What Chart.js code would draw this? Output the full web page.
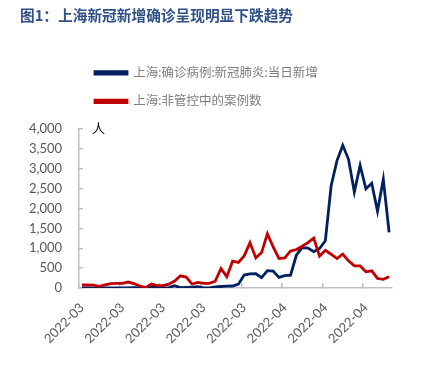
<!DOCTYPE html>
<html><head><meta charset="utf-8">
<script src="https://cdn.jsdelivr.net/npm/chart.js@4/dist/chart.umd.min.js"></script>
<style>html,body{margin:0;padding:0;background:#fff}#wrap{width:421px;height:370px}</style>
</head><body><div id="wrap"><canvas id="c" width="421" height="370"></canvas></div>
<script>
const titleText = '图1：上海新冠新增确诊呈现明显下跌趋势';
const unitLabel = '人';
const seriesNames = ['上海:确诊病例:新冠肺炎:当日新增', '上海:非管控中的案例数'];
const dates = [
 '2022-03-01','2022-03-02','2022-03-03','2022-03-04','2022-03-05','2022-03-06','2022-03-07','2022-03-08','2022-03-09','2022-03-10',
 '2022-03-11','2022-03-12','2022-03-13','2022-03-14','2022-03-15','2022-03-16','2022-03-17','2022-03-18','2022-03-19','2022-03-20',
 '2022-03-21','2022-03-22','2022-03-23','2022-03-24','2022-03-25','2022-03-26','2022-03-27','2022-03-28','2022-03-29','2022-03-30',
 '2022-03-31','2022-04-01','2022-04-02','2022-04-03','2022-04-04','2022-04-05','2022-04-06','2022-04-07','2022-04-08','2022-04-09',
 '2022-04-10','2022-04-11','2022-04-12','2022-04-13','2022-04-14','2022-04-15','2022-04-16','2022-04-17','2022-04-18','2022-04-19',
 '2022-04-20','2022-04-21','2022-04-22','2022-04-23'];
const confirmedNew = [
 1,3,2,3,0,3,0,3,4,11,
 5,1,41,9,5,8,57,8,17,24,
 31,4,4,29,38,45,50,96,326,355,
 358,260,438,425,268,311,322,824,1015,1006,
 914,994,1189,2573,3200,3590,3238,2417,3084,2494,
 2634,1931,2736,1401];
const outsideControl = [
 75,75,70,40,80,110,115,115,150,110,
 50,10,100,60,60,95,175,308,275,100,
 140,117,115,170,492,283,675,642,808,1142,
 758,892,1367,1033,742,758,933,967,1050,1142,
 1258,800,950,850,742,850,683,558,558,408,
 433,242,217,283];
const yMin = 0, yMax = 4000, yStep = 500;
const labelEvery = 7;

const unitPlugin = {
  id: 'unitLabel',
  afterDraw(chart) {
    const {ctx, chartArea} = chart;
    ctx.save();
    ctx.font = '13px "Noto Sans CJK SC"';
    ctx.fillStyle = '#000000';
    ctx.textBaseline = 'middle';
    ctx.textAlign = 'left';
    ctx.fillText(unitLabel, chartArea.left + 13, chartArea.top - 1);
    ctx.restore();
  }
};

const axisGray = '#BFBFBF';
const tickFont = {family: 'Lato, "Noto Sans", sans-serif', size: 13};

new Chart(document.getElementById('c'), {
  type: 'line',
  data: {
    labels: dates,
    datasets: [
      {label: seriesNames[0], data: confirmedNew, borderColor: '#002060', backgroundColor: '#002060',
       borderWidth: 2.8, pointRadius: 0, tension: 0, order: 1},
      {label: seriesNames[1], data: outsideControl, borderColor: '#C00000', backgroundColor: '#C00000',
       borderWidth: 2.8, pointRadius: 0, tension: 0, order: 0}
    ]
  },
  options: {
    responsive: false,
    animation: false,
    devicePixelRatio: 1,
    layout: {padding: {left: 20, right: 29, top: 0, bottom: 0}},
    plugins: {
      title: {display: true, text: titleText, align: 'start', color: '#2F5086',
        font: {family: '"Noto Sans CJK SC"', size: 14.7, weight: 'bold'},
        padding: {top: 7, bottom: 26}},
      subtitle: {display: true, text: '', weight: 500, fullSize: false,
        font: {size: 9.5}, padding: 0},
      legend: {display: true, position: 'top', align: 'start', fullSize: false,
        labels: {boxWidth: 32, boxHeight: 2.5, padding: 16, color: '#7F7F7F',
          font: {family: 'Lato, "Noto Sans CJK SC"', size: 12.5},
          sort: (a, b) => a.datasetIndex - b.datasetIndex}},
      tooltip: {enabled: false}
    },
    scales: {
      x: {
        type: 'category',
        offset: true,
        border: {display: true, color: axisGray, width: 1.5},
        grid: {display: true, drawOnChartArea: false, offset: true, tickLength: -5,
          color: c => (c.index % labelEvery === 0 ? axisGray : 'rgba(0,0,0,0)'), lineWidth: 1.5},
        ticks: {autoSkip: false, maxRotation: 45, minRotation: 45, color: '#595959', font: tickFont, padding: 17,
          callback: (v, i) => (i % labelEvery === 0 ? dates[i].slice(0, 7) : '')},
        afterFit: s => { s.height = 82; }
      },
      y: {
        min: yMin, max: yMax,
        border: {display: true, color: axisGray, width: 1.5},
        grid: {display: true, drawOnChartArea: false, tickLength: -4, color: axisGray, lineWidth: 1.5},
        ticks: {stepSize: yStep, color: '#595959', font: tickFont, padding: 21,
          callback: v => Number(v).toLocaleString('en-US')},
        afterFit: s => { s.width = 59; }
      }
    }
  },
  plugins: [unitPlugin]
});
</script>
</body></html>
